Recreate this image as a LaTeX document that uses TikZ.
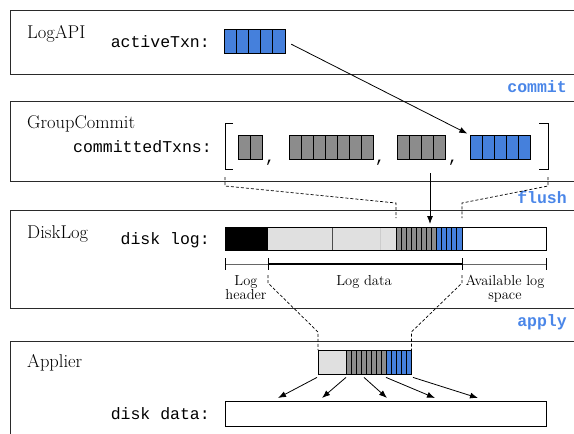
\documentclass[tikz,border=0pt]{standalone}
\usepackage{fontspec}
\setmonofont{Liberation Mono}
\usepackage{tikz}
\usetikzlibrary{positioning,arrows.meta,calc}
\definecolor{TxnBlue}{HTML}{4580DC}
\definecolor{TxnGray}{HTML}{8C8C8C}
\definecolor{LogLight}{HTML}{E0E0E0}
\definecolor{StepBlue}{HTML}{4A86E8}
\definecolor{FrameDark}{HTML}{2A2A2A}

% name, left, top, cells, colour, cell width, height
\newcommand{\txnblock}[7]{%
  \node[draw, fill=#5, line width=0.8pt, inner sep=0pt, outer sep=0pt,
        minimum width=#4*#6pt, minimum height=#7pt, anchor=north west]
    (#1) at (#2,#3) {};
  \pgfmathtruncatemacro{\lastcell}{#4-1}
  \foreach \k in {1,...,\lastcell}{
    \draw[line width=0.8pt] ($(#1.north west)+(\k*#6,0)$) -- ($(#1.south west)+(\k*#6,0)$);
  }%
}

\begin{document}
\begin{tikzpicture}[x=1pt, y=-1pt,
    frame/.style={draw=FrameDark, line width=1pt, anchor=north west, inner sep=0pt,
                  minimum width=580pt},
    layername/.style={anchor=base west, inner sep=0pt, font=\fontsize{18.5}{21}\selectfont},
    varname/.style={anchor=base east, inner sep=0pt, font=\ttfamily\fontsize{16.5}{19}\selectfont},
    stepname/.style={anchor=base east, inner sep=0pt, text=StepBlue,
                     font=\ttfamily\bfseries\fontsize{16.5}{19}\selectfont},
    note/.style={anchor=north, inner sep=0pt, align=center, font=\fontsize{14.5}{14}\selectfont},
    sep/.style={anchor=base, inner sep=0pt, font=\ttfamily\fontsize{16.5}{19}\selectfont},
    guide/.style={line width=0.7pt, dash pattern=on 3pt off 2pt},
    flow/.style={-{Latex[length=8pt,width=6pt]}, line width=0.8pt}]
  \useasboundingbox (0,0) rectangle (574,434);
  \clip (0,0) rectangle (574,434);

  % layers
  \node[frame, minimum height=64pt] (logapi) at (10,10) {};
  \node[frame, minimum height=80pt] (groupcommit) at (10,101) {};
  \node[frame, minimum height=98pt] (disklog) at (10,210) {};
  \node[frame, minimum height=110pt] (applier) at (10,341) {};

  \node[layername] (logapiname) at (27,38) {LogAPI};
  \node[layername] (groupname) at (27,128) {GroupCommit};
  \node[layername] (disklogname) at (27,238) {DiskLog};
  \node[layername] (appliername) at (27,367) {Applier};

  \node[stepname] (commitstep) at (567,92) {commit};
  \node[stepname] (flushstep) at (567,203) {flush};
  \node[stepname] (applystep) at (567,326) {apply};

  % LogAPI
  \node[varname] (activename) at (210,47) {activeTxn:};
  \txnblock{active}{224}{29}{5}{TxnBlue}{12.2}{24}

  % GroupCommit
  \node[varname] (committedname) at (212,152) {committedTxns:};
  \draw[line width=0.9pt] (233,123) -- (225,123) -- (225,169) coordinate (lbr) -- (233,169);
  \draw[line width=0.9pt] (539,123) -- (548,123) -- (548,169) coordinate (rbr) -- (539,169);
  \txnblock{txnA}{238}{135}{2}{TxnGray}{12.2}{24}
  \txnblock{txnB}{289}{135}{7}{TxnGray}{12}{24}
  \txnblock{txnC}{397}{135}{4}{TxnGray}{12}{24}
  \txnblock{pending}{470}{135}{5}{TxnBlue}{12}{24}
  \foreach \cx/\cn in {270/commaA, 380/commaB, 453/commaC}
    \node[sep] (\cn) at (\cx,162) {,};

  \draw[flow, shorten <=7pt, shorten >=3pt] (active.east) -- (pending.north west);

  % DiskLog
  \node[varname] (disklogvar) at (210,244) {disk log:};
  \node[inner sep=0pt, minimum width=321pt, minimum height=23pt, anchor=north west]
    (logbar) at (225,227) {};
  \fill (logbar.north west) rectangle ++(43,23);
  \fill[LogLight] ($(logbar.north west)+(43,0)$) rectangle ++(128,23);
  \draw[black!70, line width=0.8pt] ($(logbar.north west)+(107,0)$) -- ++(0,23);
  \draw[black!20, line width=0.6pt] ($(logbar.north west)+(155,0)$) -- ++(0,23);
  \txnblock{logold}{396}{227}{8}{TxnGray}{5}{23}
  \txnblock{lognew}{436}{227}{5}{TxnBlue}{5.2}{23}
  \draw[line width=1pt] (logbar.north west) rectangle (logbar.south east);

  \draw[black!60, line width=1pt] (225,264) -- (268,264);
  \draw[line width=1.6pt] (268,264) -- (462,264);
  \draw[black!60, line width=1pt] (462,264) -- (546,264);
  \foreach \tx in {225,268,462,546}
    \draw[line width=1pt] (\tx,258) -- (\tx,270);

  \node[note] (hdrnote) at (246,275) {Log\\header};
  \node[note] (datanote) at (364,275) {Log data};
  \node[note] (freenote) at (505,275) {Available log\\space};

  \coordinate (flushsrc) at (430,173);
  \draw[flow, shorten >=3pt] (flushsrc) -- (flushsrc |- logbar.north);
  \draw[guide] ($(lbr)+(0,8)$) -- ++(0,9) -- ($(logold.north west)+(0,-24)$) -- ($(logold.north west)+(0,-9)$);
  \draw[guide] ($(rbr)+(0,8)$) -- ++(0,9) -- ($(lognew.north east)+(0,-24)$) -- ($(lognew.north east)+(0,-9)$);

  % Applier
  \node[inner sep=0pt, minimum width=93pt, minimum height=24pt, anchor=north west]
    (applybar) at (318,350) {};
  \fill[LogLight] (applybar.north west) rectangle ++(28,24);
  \txnblock{applyold}{346}{350}{8}{TxnGray}{5}{24}
  \txnblock{applynew}{386}{350}{5}{TxnBlue}{5}{24}
  \draw[line width=1pt] (applybar.north west) rectangle (applybar.south east);

  \draw[guide] (268,275) -- (268,283) -- ($(applybar.north west)+(0,-18)$) -- (applybar.north west);
  \draw[guide] (462,275) -- (462,283) -- ($(applybar.north east)+(0,-18)$) -- (applybar.north east);

  \node[varname] (diskdatavar) at (210,419) {disk data:};
  \node[draw, line width=1pt, inner sep=0pt, minimum width=321pt, minimum height=25pt,
        anchor=north west] (diskdata) at (225,401) {};
  \foreach \sx/\ex in {-1/53, 28/97, 46/162, 68/210, 95/253}
    \draw[flow] ($(applybar.south west)+(\sx,3)$) -- ($(diskdata.north west)+(\ex,-3)$);
\end{tikzpicture}
\end{document}
